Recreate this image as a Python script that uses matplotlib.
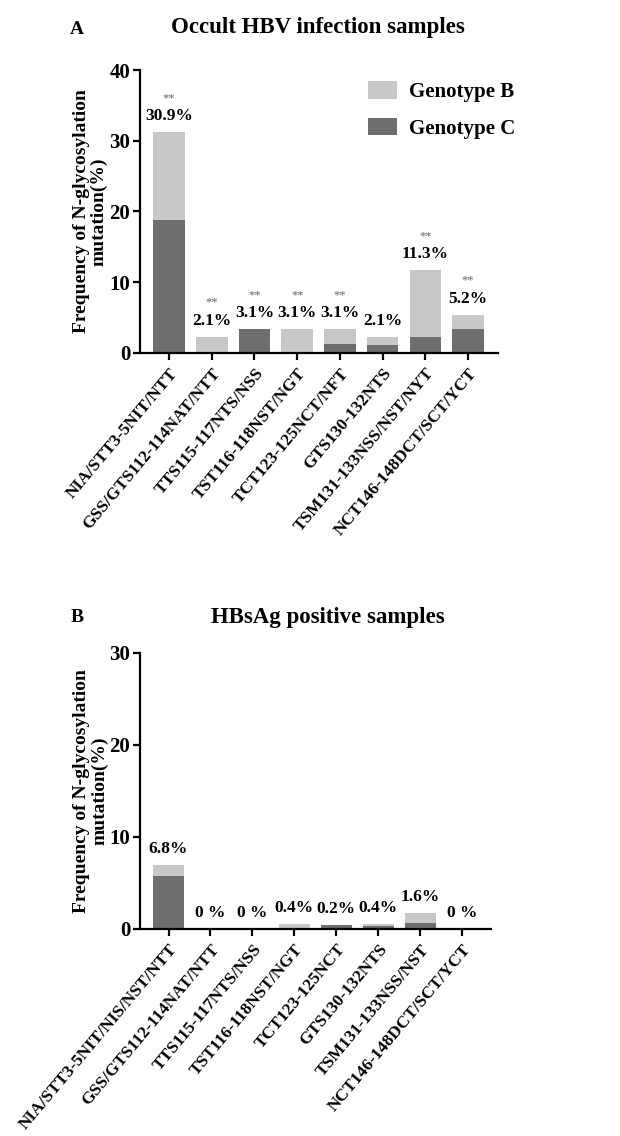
import matplotlib
matplotlib.use("Agg")
import matplotlib.pyplot as plt
import numpy as np
from matplotlib.patches import Patch

plt.rcParams["font.family"] = ["Liberation Serif", "DejaVu Serif"]
plt.rcParams["font.weight"] = "bold"

# Panel A - occult HBV infection samples
sites_a = [
    "NIA/STT3-5NIT/NTT",
    "GSS/GTS112-114NAT/NTT",
    "TTS115-117NTS/NSS",
    "TST116-118NST/NGT",
    "TCT123-125NCT/NFT",
    "GTS130-132NTS",
    "TSM131-133NSS/NST/NYT",
    "NCT146-148DCT/SCT/YCT",
]
geno_c_a = [18.8, 0.0, 3.4, 0.0, 1.3, 1.2, 2.3, 3.4]
geno_b_a = [12.4, 2.3, 0.0, 3.4, 2.1, 1.1, 9.4, 2.0]
pct_a = ["30.9%", "2.1%", "3.1%", "3.1%", "3.1%", "2.1%", "11.3%", "5.2%"]
stars_a = ["**", "**", "**", "**", "**", "", "**", "**"]

# Panel B - HBsAg positive samples
sites_b = [
    "NIA/STT3-5NIT/NIS/NST/NTT",
    "GSS/GTS112-114NAT/NTT",
    "TTS115-117NTS/NSS",
    "TST116-118NST/NGT",
    "TCT123-125NCT",
    "GTS130-132NTS",
    "TSM131-133NSS/NST",
    "NCT146-148DCT/SCT/YCT",
]
geno_c_b = [5.8, 0.0, 0.0, 0.0, 0.4, 0.3, 0.7, 0.0]
geno_b_b = [1.2, 0.0, 0.0, 0.5, 0.0, 0.2, 1.0, 0.0]
pct_b = ["6.8%", "0 %", "0 %", "0.4%", "0.2%", "0.4%", "1.6%", "0 %"]

LIGHT = "#c8c8c8"
DARK = "#6e6e6e"
W, H = 620, 1136


def draw_panel(ax, sites, c_vals, b_vals, pcts, stars, ymax, xright):
    x = np.arange(len(sites))
    ax.bar(x, c_vals, width=0.74, color=DARK, linewidth=0)
    ax.bar(x, b_vals, width=0.74, bottom=c_vals, color=LIGHT, linewidth=0)
    tops = np.array(c_vals) + np.array(b_vals)
    for i, top in enumerate(tops):
        ax.annotate(pcts[i], (x[i], top), xytext=(0, 11.5), textcoords="offset points",
                    ha="center", va="center", fontsize=12.5, fontweight="bold")
        if stars and stars[i]:
            ax.annotate(stars[i], (x[i], top), xytext=(0, 24.5), textcoords="offset points",
                        ha="center", va="center", fontsize=9, fontweight="normal",
                        color="#666666")
    ax.set_xlim(-0.68, xright)
    ax.set_ylim(0, ymax)
    ax.set_yticks(np.arange(0, ymax + 1, 10))
    ax.set_xticks(x)
    ax.set_xticklabels(sites, rotation=50, ha="right", rotation_mode="anchor",
                       fontsize=12.5, fontweight="bold")
    for lbl in ax.get_yticklabels():
        lbl.set_fontsize(15)
        lbl.set_fontweight("bold")
    for s in ("top", "right"):
        ax.spines[s].set_visible(False)
    for s in ("left", "bottom"):
        ax.spines[s].set_linewidth(1.6)
    ax.tick_params(axis="both", width=1.6, length=5, direction="out")
    ax.tick_params(axis="x", pad=4)
    ax.tick_params(axis="y", pad=2)
    ax.set_ylabel("Frequency of N-glycosylation\nmutation(%)", fontsize=14,
                  fontweight="bold", linespacing=1.05)
    ax.yaxis.set_label_coords(-0.09, 0.5)


fig = plt.figure(figsize=(W / 100, H / 100), dpi=100)

ax_a = fig.add_axes([140 / W, 1 - 353 / H, (498 - 140) / W, (353 - 70) / H])
draw_panel(ax_a, sites_a, geno_c_a, geno_b_a, pct_a, stars_a, 40, 7.7)

ax_b = fig.add_axes([140 / W, 1 - 929 / H, (491 - 140) / W, (929 - 653) / H])
draw_panel(ax_b, sites_b, geno_c_b, geno_b_b, pct_b, None, 30, 7.69)

fig.text(77 / W, 1 - 29 / H, "A", fontsize=14, fontweight="bold", ha="center", va="center")
fig.text(318 / W, 1 - 28 / H, "Occult HBV infection samples", fontsize=16.5,
         fontweight="bold", ha="center", va="center")
fig.text(77 / W, 1 - 617 / H, "B", fontsize=14, fontweight="bold", ha="center", va="center")
fig.text(328 / W, 1 - 617 / H, "HBsAg positive samples", fontsize=16.5,
         fontweight="bold", ha="center", va="center")

handles = [Patch(facecolor=LIGHT, edgecolor="none"), Patch(facecolor=DARK, edgecolor="none")]
fig.legend(handles, ["Genotype B", "Genotype C"], loc="upper left",
           bbox_to_anchor=(349 / W, 1 - 62 / H), frameon=False,
           prop={"family": "Liberation Serif", "weight": "bold", "size": 15},
           handlelength=1.4, handleheight=0.95, handletextpad=0.6, labelspacing=0.75)

fig.savefig("out.png", dpi=100)
